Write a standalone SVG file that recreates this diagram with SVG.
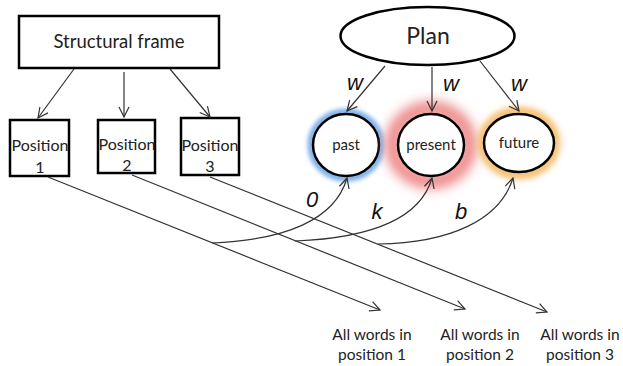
<svg xmlns="http://www.w3.org/2000/svg" width="623" height="366" viewBox="0 0 623 366">
<style>
.box{fill:#fff;stroke:#000;stroke-width:2.5}
.ln{fill:none;stroke:#333;stroke-width:1.2}
.t{font-family:Lato,"Open Sans",sans-serif;fill:#222;text-anchor:middle}
.i{font-family:"Liberation Sans",Arial,sans-serif;font-style:italic;fill:#111;text-anchor:middle;font-size:22px}
</style>
<defs>
<marker id="ah" viewBox="0 0 12 12" refX="11" refY="6" markerWidth="12" markerHeight="12" markerUnits="userSpaceOnUse" orient="auto">
<path d="M1,1 L11,6 L1,11" fill="none" stroke="#333" stroke-width="1.2"/>
</marker>
<filter id="b2" x="-50%" y="-50%" width="200%" height="200%"><feGaussianBlur stdDeviation="2"/></filter>
<filter id="b6" x="-50%" y="-50%" width="200%" height="200%"><feGaussianBlur stdDeviation="6"/></filter>
<filter id="b3" x="-50%" y="-50%" width="200%" height="200%"><feGaussianBlur stdDeviation="3"/></filter>
</defs>
<g id="frame">
<rect class="box" x="19" y="16" width="200" height="52"/>
<text class="t" x="119" y="48" font-size="18.5">Structural frame</text>
</g>
<g id="pos1">
<rect class="box" x="10" y="120" width="59" height="56"/>
<text class="t" x="40" y="151" font-size="16">Position</text>
<text class="t" x="40" y="173" font-size="16">1</text>
</g>
<g id="pos2">
<rect class="box" x="98" y="120" width="57" height="53"/>
<text class="t" x="127" y="150" font-size="16">Position</text>
<text class="t" x="127" y="171" font-size="16">2</text>
</g>
<g id="pos3">
<rect class="box" x="181" y="118" width="58" height="57"/>
<text class="t" x="210" y="151" font-size="16">Position</text>
<text class="t" x="210" y="172" font-size="16">3</text>
</g>
<g id="plan">
<ellipse cx="427.5" cy="36" rx="87" ry="29" fill="#fff" stroke="#000" stroke-width="2.5"/>
<text class="t" x="428" y="44" font-size="23">Plan</text>
</g>
<g id="past">
<ellipse cx="346" cy="145" rx="35" ry="33" fill="none" stroke="#7aaee8" stroke-width="7" filter="url(#b2)"/>
<ellipse cx="346" cy="145" rx="33" ry="31" fill="#fff" stroke="#000" stroke-width="2.5"/>
<text class="t" x="346" y="150" font-size="15">past</text>
</g>
<g id="present">
<ellipse cx="431" cy="145" rx="38" ry="36" fill="none" stroke="#ee8a8a" stroke-width="16" filter="url(#b6)"/>
<ellipse cx="431" cy="145" rx="33" ry="31" fill="#fff" stroke="#000" stroke-width="2.5"/>
<text class="t" x="431" y="150" font-size="15">present</text>
</g>
<g id="future">
<ellipse cx="519" cy="143" rx="37" ry="32" fill="none" stroke="#f5b860" stroke-width="8" filter="url(#b3)"/>
<ellipse cx="519" cy="143" rx="35" ry="29" fill="#fff" stroke="#000" stroke-width="2.5"/>
<text class="t" x="519" y="148" font-size="15">future</text>
</g>
<g id="connectors">
<line class="ln" x1="74" y1="69" x2="38" y2="118" marker-end="url(#ah)"/>
<line class="ln" x1="124" y1="72" x2="124" y2="117" marker-end="url(#ah)"/>
<line class="ln" x1="170" y1="69" x2="210" y2="117" marker-end="url(#ah)"/>
<line class="ln" x1="385" y1="66" x2="347" y2="111" marker-end="url(#ah)"/>
<line class="ln" x1="432" y1="67" x2="432" y2="111" marker-end="url(#ah)"/>
<line class="ln" x1="480" y1="61" x2="519" y2="111" marker-end="url(#ah)"/>
<line class="ln" x1="48" y1="177" x2="380" y2="310" marker-end="url(#ah)"/>
<line class="ln" x1="132" y1="175" x2="465" y2="309" marker-end="url(#ah)"/>
<line class="ln" x1="210" y1="177" x2="547" y2="312" marker-end="url(#ah)"/>
<path class="ln" d="M212,243 C285,240 335,220 347,178" marker-end="url(#ah)"/>
<path class="ln" d="M295,241 C370,238 420,220 432,178" marker-end="url(#ah)"/>
<path class="ln" d="M378,244 C450,243 500,220 513,178" marker-end="url(#ah)"/>
<text class="i" x="355" y="90">w</text>
<text class="i" x="451" y="91">w</text>
<text class="i" x="519" y="91">w</text>
<text class="i" x="312" y="207">0</text>
<text class="i" x="377" y="219">k</text>
<text class="i" x="461" y="219">b</text>
</g>
<g id="labels">
<text class="t" x="372" y="340" font-size="15.5">All words in</text>
<text class="t" x="372" y="360" font-size="15.5">position 1</text>
<text class="t" x="480" y="340" font-size="15.5">All words in</text>
<text class="t" x="480" y="360" font-size="15.5">position 2</text>
<text class="t" x="580" y="340" font-size="15.5">All words in</text>
<text class="t" x="580" y="360" font-size="15.5">position 3</text>
</g>
</svg>
